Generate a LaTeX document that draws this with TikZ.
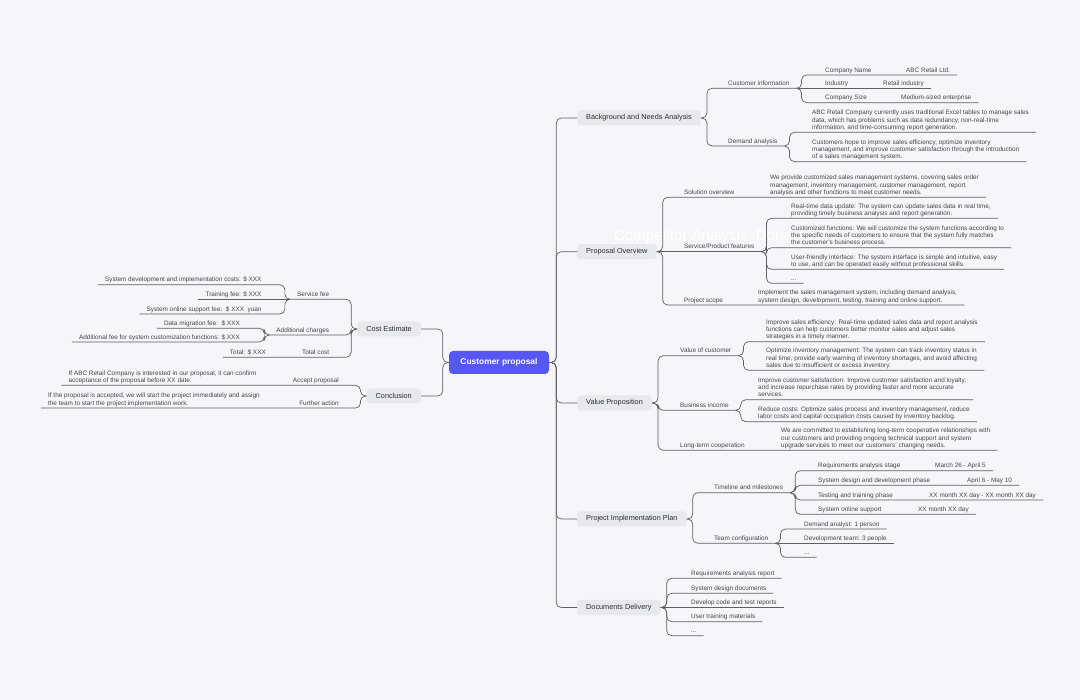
\documentclass[tikz,border=0pt]{standalone}
\usepackage{fontspec}
\setmainfont{Liberation Sans}
\definecolor{bggrey}{RGB}{246,246,248}
\definecolor{topicfill}{RGB}{232,233,237}
\definecolor{topictext}{RGB}{45,45,50}
\definecolor{itemtext}{RGB}{70,70,75}
\definecolor{linegrey}{RGB}{95,95,100}
\definecolor{rootblue}{RGB}{86,88,246}
\begin{document}
\begin{tikzpicture}[x=1pt, y=-1pt,
    root/.style={fill=rootblue, rounded corners=4pt, text=white, font=\bfseries\fontsize{8.4}{10}\selectfont, minimum width=100pt, minimum height=23pt},
    topic/.style={fill=topicfill, rounded corners=3pt, text=topictext, font=\fontsize{7.3}{8.8}\selectfont, inner xsep=9pt, inner ysep=0pt, minimum height=15pt},
    item/.style={text=itemtext, font=\fontsize{6.4}{7.4}\selectfont, inner xsep=7pt, inner ysep=0.4pt, align=left, execute at end node=\strut},
    leafr/.style={item, anchor=south west},
    leafl/.style={item, anchor=south east},
    branch/.style={draw=linegrey, line width=0.7pt, rounded corners=5pt}]
            \useasboundingbox[fill=bggrey] (0,0) rectangle (1080,700);

            % Watermark
            \node[text=white, font=\fontsize{15}{18}\selectfont, anchor=west, inner sep=0pt] (wm) at (614,237) {Competitor Analysis\_Done};

            % Root
            \node[root] (cp) at (499,362.5) {Customer proposal};

            % Background and Needs Analysis
            \node[topic, anchor=west] (bna) at (577,118) {Background and Needs Analysis};
            \node[leafr] (ci) at (721,88.3) {Customer information};
            \node[leafr] (cn) at (818,75) {Company Name};
            \node[leafr] (abc) at (899,75) {ABC Retail Ltd.};
            \node[leafr] (ind) at (818,88.3) {Industry};
            \node[leafr] (ri) at (876,88.3) {Retail industry};
            \node[leafr] (cs) at (818,102.7) {Company Size};
            \node[leafr] (med) at (894,102.7) {Medium-sized enterprise};
            \node[leafr] (da) at (721,146) {Demand analysis};
            \node[leafr] (da1) at (805,132.3) {ABC Retail Company currently uses traditional Excel tables to manage sales\\data, which has problems such as data redundancy, non-real-time\\information, and time-consuming report generation.};
            \node[leafr] (da2) at (805,161.7) {Customers hope to improve sales efficiency, optimize inventory\\management, and improve customer satisfaction through the introduction\\of a sales management system.};

            \draw[branch] (cp.east) -- ++(7,0) |- (bna.west);
            \draw[branch] (bna.east) -- ++(6,0) |- (ci.south west) -- (ci.south east);
            \draw[branch] (ci.south east) -- ++(5,0) |- (cn.south west) -- (abc.south east);
            \draw[branch] (ci.south east) -- (ri.south east);
            \draw[branch] (ci.south east) -- ++(5,0) |- (cs.south west) -- (med.south east);
            \draw[branch] (bna.east) -- ++(6,0) |- (da.south west) -- (da.south east);
            \draw[branch] (da.south east) -- ++(5,0) |- (da1.south west) -- (da1.south east);
            \draw[branch] (da.south east) -- ++(5,0) |- (da2.south west) -- (da2.south east);

            % Proposal Overview
            \node[topic, anchor=west] (po) at (577,251.7) {Proposal Overview};
            \node[leafr] (so) at (677,197.3) {Solution overview};
            \node[leafr] (so1) at (763,197.3) {We provide customized sales management systems, covering sales order\\management, inventory management, customer management, report\\analysis and other functions to meet customer needs.};
            \node[leafr] (spf) at (677,251.7) {Service/Product features};
            \node[leafr] (f1) at (784,218.3) {Real-time data update: The system can update sales data in real time,\\providing timely business analysis and report generation.};
            \node[leafr] (f2) at (784,247.7) {Customized functions: We will customize the system functions according to\\the specific needs of customers to ensure that the system fully matches\\the customer's business process.};
            \node[leafr] (f3) at (784,269.3) {User-friendly interface: The system interface is simple and intuitive, easy\\to use, and can be operated easily without professional skills.};
            \node[leafr] (f4) at (784,283.3) {...};
            \node[leafr] (ps) at (677,305) {Project scope};
            \node[leafr] (ps1) at (751,305) {Implement the sales management system, including demand analysis,\\system design, development, testing, training and online support.};

            \draw[branch] (cp.east) -- ++(7,0) |- (po.west);
            \draw[branch] (po.east) -- ++(6,0) |- (so.south west) -- (so1.south east);
            \draw[branch] (po.east) -- (spf.south east);
            \draw[branch] (po.east) -- ++(6,0) |- (ps.south west) -- (ps1.south east);
            \draw[branch] (spf.south east) -- ++(5,0) |- (f1.south west) -- (f1.south east);
            \draw[branch] (spf.south east) -- ++(5,0) |- (f2.south west) -- (f2.south east);
            \draw[branch] (spf.south east) -- ++(5,0) |- (f3.south west) -- (f3.south east);
            \draw[branch] (spf.south east) -- ++(5,0) |- (f4.south west) -- (f4.south east);

            % Value Proposition
            \node[topic, anchor=west] (vp) at (577,403) {Value Proposition};
            \node[leafr] (voc) at (673,355.7) {Value of customer};
            \node[leafr] (v1) at (759,341.7) {Improve sales efficiency: Real-time updated sales data and report analysis\\functions can help customers better monitor sales and adjust sales\\strategies in a timely manner.};
            \node[leafr] (v2) at (759,370.3) {Optimize inventory management: The system can track inventory status in\\real time, provide early warning of inventory shortages, and avoid affecting\\sales due to insufficient or excess inventory.};
            \node[leafr] (bi) at (673,410.3) {Business income};
            \node[leafr] (b1) at (751,399.7) {Improve customer satisfaction: Improve customer satisfaction and loyalty,\\and increase repurchase rates by providing faster and more accurate\\services.};
            \node[leafr] (b2) at (751,421.7) {Reduce costs: Optimize sales process and inventory management, reduce\\labor costs and capital occupation costs caused by inventory backlog.};
            \node[leafr] (ltc) at (673,450.3) {Long-term cooperation};
            \node[leafr] (ltc1) at (774,450.3) {We are committed to establishing long-term cooperative relationships with\\our customers and providing ongoing technical support and system\\upgrade services to meet our customers' changing needs.};

            \draw[branch] (cp.east) -- ++(7,0) |- (vp.west);
            \draw[branch] (vp.east) -- ++(6,0) |- (voc.south west) -- (voc.south east);
            \draw[branch] (vp.east) -- ++(6,0) |- (bi.south west) -- (bi.south east);
            \draw[branch] (vp.east) -- ++(6,0) |- (ltc.south west) -- (ltc1.south east);
            \draw[branch] (voc.south east) -- ++(5,0) |- (v1.south west) -- (v1.south east);
            \draw[branch] (voc.south east) -- ++(5,0) |- (v2.south west) -- (v2.south east);
            \draw[branch] (bi.south east) -- ++(5,0) |- (b1.south west) -- (b1.south east);
            \draw[branch] (bi.south east) -- ++(5,0) |- (b2.south west) -- (b2.south east);

            % Project Implementation Plan
            \node[topic, anchor=west] (pip) at (577,519) {Project Implementation Plan};
            \node[leafr] (tm) at (707,492.7) {Timeline and milestones};
            \node[leafr] (r1) at (811,470.7) {Requirements analysis stage};
            \node[leafr] (r1d) at (928,470.7) {March 26 - April 5};
            \node[leafr] (r2) at (811,485.3) {System design and development phase};
            \node[leafr] (r2d) at (960,485.3) {April 6 - May 10};
            \node[leafr] (r3) at (811,500) {Testing and training phase};
            \node[leafr] (r3d) at (922,500) {XX month XX day - XX month XX day};
            \node[leafr] (r4) at (811,514.3) {System online support};
            \node[leafr] (r4d) at (911,514.3) {XX month XX day};
            \node[leafr] (tc) at (707,543.3) {Team configuration};
            \node[leafr] (t1) at (797,529) {Demand analyst: 1 person};
            \node[leafr] (t2) at (797,543.3) {Development team: 3 people};
            \node[leafr] (t3) at (797,557.3) {...};

            \draw[branch] (cp.east) -- ++(7,0) |- (pip.west);
            \draw[branch] (pip.east) -- ++(6,0) |- (tm.south west) -- (tm.south east);
            \draw[branch] (pip.east) -- ++(6,0) |- (tc.south west) -- (tc.south east);
            \draw[branch] (tm.south east) -- ++(5,0) |- (r1.south west) -- (r1d.south east);
            \draw[branch] (tm.south east) -- ++(5,0) |- (r2.south west) -- (r2d.south east);
            \draw[branch] (tm.south east) -- ++(5,0) |- (r3.south west) -- (r3d.south east);
            \draw[branch] (tm.south east) -- ++(5,0) |- (r4.south west) -- (r4d.south east);
            \draw[branch] (tc.south east) -- ++(5,0) |- (t1.south west) -- (t1.south east);
            \draw[branch] (tc.south east) -- (t2.south east);
            \draw[branch] (tc.south east) -- ++(5,0) |- (t3.south west) -- (t3.south east);

            % Documents Delivery
            \node[topic, anchor=west] (dd) at (577,607.5) {Documents Delivery};
            \node[leafr] (d1) at (684,578.3) {Requirements analysis report};
            \node[leafr] (d2) at (684,593.3) {System design documents};
            \node[leafr] (d3) at (684,607.5) {Develop code and test reports};
            \node[leafr] (d4) at (684,621.7) {User training materials};
            \node[leafr] (d5) at (684,635.7) {...};

            \draw[branch] (cp.east) -- ++(7,0) |- (dd.west);
            \draw[branch] (dd.east) -- ++(6,0) |- (d1.south west) -- (d1.south east);
            \draw[branch] (dd.east) -- ++(6,0) |- (d2.south west) -- (d2.south east);
            \draw[branch] (dd.east) -- (d3.south east);
            \draw[branch] (dd.east) -- ++(6,0) |- (d4.south west) -- (d4.south east);
            \draw[branch] (dd.east) -- ++(6,0) |- (d5.south west) -- (d5.south east);

            % Cost Estimate
            \node[topic, anchor=east] (ce) at (421,329) {Cost Estimate};
            \node[leafl] (sf) at (336.3,299.3) {Service fee};
            \node[leafl] (s1) at (268.7,284.7) {System development and implementation costs: \$ XXX};
            \node[leafl] (s2) at (268.7,299.3) {Training fee: \$ XXX};
            \node[leafl] (s3) at (268.7,314) {System online support fee:\ \ \$ XXX\ \ yuan};
            \node[leafl] (ac) at (336.3,335) {Additional charges};
            \node[leafl] (a1) at (247,328.3) {Data migration fee:\ \ \$ XXX};
            \node[leafl] (a2) at (247,342) {Additional fee for system customization functions: \$ XXX};
            \node[leafl] (tcost) at (336.3,357.3) {Total cost};
            \node[leafl] (tot) at (273,357.3) {Total: \$ XXX};

            \draw[branch] (cp.west) -- ++(-6,0) |- (ce.east);
            \draw[branch] (ce.west) -- ++(-6,0) |- (sf.south east) -- (sf.south west);
            \draw[branch] (ce.west) -- ++(-6,0) |- (ac.south east) -- (ac.south west);
            \draw[branch] (ce.west) -- ++(-6,0) |- (tcost.south east) -- (tot.south west);
            \draw[branch] (sf.south west) -- ++(-5,0) |- (s1.south east) -- (s1.south west);
            \draw[branch] (sf.south west) -- (s2.south west);
            \draw[branch] (sf.south west) -- ++(-5,0) |- (s3.south east) -- (s3.south west);
            \draw[branch] (ac.south west) -- ++(-5,0) |- (a1.south east) -- (a1.south west);
            \draw[branch] (ac.south west) -- ++(-5,0) |- (a2.south east) -- (a2.south west);

            % Conclusion
            \node[topic, anchor=east] (con) at (421,396) {Conclusion};
            \node[leafl] (acc) at (346,385.3) {Accept proposal};
            \node[leafl] (acc1) at (263.7,385.3) {If ABC Retail Company is interested in our proposal, it can confirm\\acceptance of the proposal before XX date.};
            \node[leafl] (fa) at (346,408) {Further action};
            \node[leafl] (fa1) at (267,408) {If the proposal is accepted, we will start the project immediately and assign\\the team to start the project implementation work.};

            \draw[branch] (cp.west) -- ++(-6,0) |- (con.east);
            \draw[branch] (con.west) -- ++(-6,0) |- (acc.south east) -- (acc1.south west);
            \draw[branch] (con.west) -- ++(-6,0) |- (fa.south east) -- (fa1.south west);
        \end{tikzpicture}
\end{document}
